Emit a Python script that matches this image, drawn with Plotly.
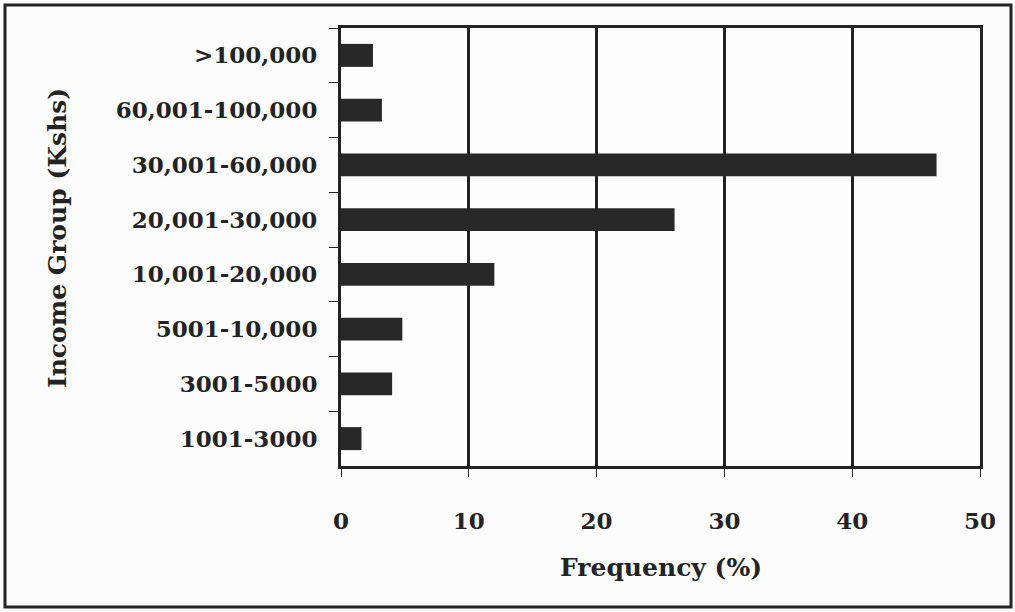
import plotly.graph_objects as go

income_groups = [">100,000", "60,001-100,000", "30,001-60,000", "20,001-30,000",
                 "10,001-20,000", "5001-10,000", "3001-5000", "1001-3000"]
frequency = [2.5, 3.2, 46.6, 26.1, 12.0, 4.8, 4.0, 1.6]
x_ticks = [0, 10, 20, 30, 40, 50]

W, H = 1015, 612
L, R, T, B = 341, 35, 28, 146
pw, ph = W - L - R, H - T - B

ink = "#232323"
font = dict(family="DejaVu Serif", size=23, color=ink, weight="bold")
title_font = dict(family="DejaVu Serif", size=25, color=ink, weight="bold")

fig = go.Figure(go.Bar(
    x=frequency, y=income_groups, orientation="h",
    marker=dict(color="#282828", line=dict(width=0)),
    width=0.42,
))

def px_x(v):
    return (v - L) / pw

def px_y(v):
    return 1 - (v - T) / ph

fig.update_layout(
    width=W, height=H,
    margin=dict(l=L, r=R, t=T, b=B, pad=0),
    paper_bgcolor="#fcfcfc", plot_bgcolor="#fdfdfd",
    showlegend=False,
    font=font,
    xaxis=dict(range=[0, 50], tickvals=x_ticks, ticktext=[str(v) for v in x_ticks],
               showgrid=True, gridcolor=ink, gridwidth=3,
               showline=True, linecolor=ink, linewidth=3, mirror=True,
               ticks="outside", ticklen=8, tickwidth=1, tickcolor=ink,
               ticklabelstandoff=24, tickfont=font, zeroline=False),
    yaxis=dict(autorange="reversed", type="category", tickson="boundaries",
               showgrid=False, showline=True, linecolor=ink, linewidth=3, mirror=True,
               ticks="outside", ticklen=9, tickwidth=1, tickcolor=ink,
               ticklabelstandoff=16, tickfont=font),
    shapes=[dict(type="rect", xref="paper", yref="paper",
                 x0=px_x(5), x1=px_x(1011), y0=px_y(607), y1=px_y(5),
                 line=dict(color=ink, width=3), fillcolor="rgba(0,0,0,0)")],
    annotations=[
        dict(text="Income Group (Kshs)", xref="paper", yref="paper",
             x=px_x(58), y=px_y(238), textangle=-90, showarrow=False,
             xanchor="center", yanchor="middle", font=title_font),
        dict(text="Frequency (%)", xref="paper", yref="paper",
             x=px_x(661), y=px_y(567), showarrow=False,
             xanchor="center", yanchor="middle", font=title_font),
    ],
)

fig.write_html("out.html", config={"displayModeBar": False},
               post_script="document.body.style.margin='0px';document.body.style.overflow='hidden';")
